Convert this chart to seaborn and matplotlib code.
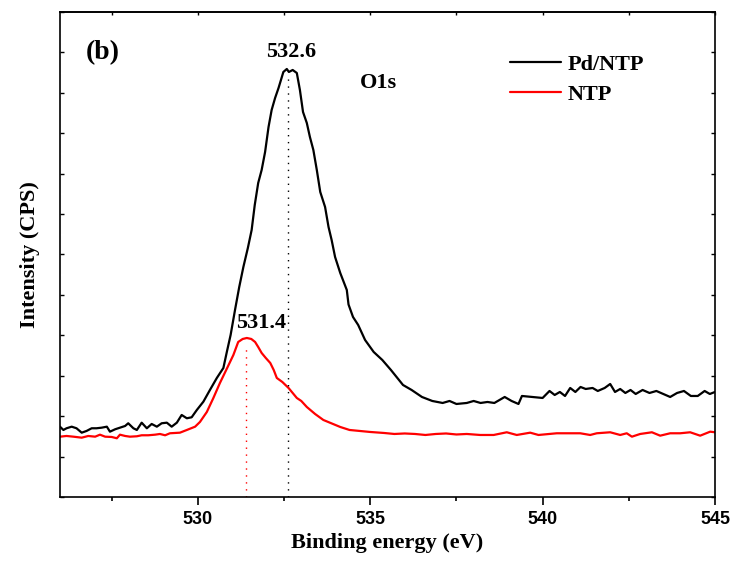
import numpy as np
import pandas as pd
import matplotlib
matplotlib.use('Agg')
import matplotlib.pyplot as plt
import seaborn as sns

# O1s XPS spectra (arbitrary CPS units)
pd_ntp_energy = [526.00, 526.10, 526.19, 526.34, 526.48, 526.63, 526.77, 526.92, 527.06, 527.21,
                 527.36, 527.45, 527.60, 527.74, 527.89, 527.98, 528.13, 528.23, 528.37, 528.52,
                 528.66, 528.81, 528.95, 529.10, 529.24, 529.39, 529.53, 529.68, 529.82, 529.97,
                 530.16, 530.35, 530.55, 530.74, 530.84, 530.95, 531.08, 531.20, 531.32, 531.45,
                 531.56, 531.65, 531.75, 531.85, 531.95, 532.05, 532.14, 532.24, 532.34, 532.48,
                 532.58, 532.64, 532.75, 532.87, 532.96, 533.05, 533.16, 533.25, 533.35, 533.45,
                 533.55, 533.69, 533.79, 533.88, 533.98, 534.13, 534.32, 534.37, 534.50, 534.65,
                 534.85, 535.10, 535.35, 535.60, 535.95, 536.20, 536.50, 536.80, 537.10, 537.30,
                 537.50, 537.80, 538.00, 538.20, 538.40, 538.60, 538.75, 538.90, 539.10, 539.30,
                 539.40, 539.70, 540.00, 540.20, 540.35, 540.50, 540.65, 540.80, 540.95, 541.10,
                 541.25, 541.45, 541.60, 541.80, 541.96, 542.10, 542.25, 542.40, 542.55, 542.70,
                 542.90, 543.10, 543.30, 543.50, 543.70, 543.90, 544.10, 544.30, 544.50, 544.70,
                 544.85, 545.00]
pd_ntp_counts = [2812, 2680, 2748, 2812, 2748, 2572, 2640, 2748, 2748, 2772,
                 2812, 2612, 2708, 2772, 2840, 2948, 2748, 2680, 2972, 2748,
                 2920, 2812, 2948, 2972, 2812, 2972, 3280, 3148, 3188, 3480,
                 3812, 4280, 4760, 5160, 5800, 6480, 7500, 8400, 9200, 9960,
                 10680, 11680, 12560, 13080, 13800, 14800, 15480, 15960, 16360, 17000,
                 17120, 17000, 17080, 16960, 16280, 15400, 14960, 14400, 13880, 13080,
                 12200, 11600, 10800, 10280, 9600, 8960, 8280, 7700, 7200, 6880,
                 6280, 5800, 5480, 5080, 4480, 4280, 4000, 3840, 3760, 3840,
                 3720, 3760, 3840, 3760, 3800, 3760, 3880, 4000, 3840, 3720,
                 4040, 4000, 3960, 4240, 4080, 4200, 4040, 4360, 4200, 4400,
                 4320, 4360, 4240, 4360, 4520, 4200, 4320, 4160, 4280, 4120,
                 4280, 4160, 4240, 4120, 4000, 4160, 4240, 4040, 4040, 4240,
                 4120, 4200]

ntp_energy = [526.00, 526.19, 526.39, 526.63, 526.82, 527.02, 527.16, 527.31, 527.50, 527.65,
              527.74, 527.89, 528.03, 528.23, 528.37, 528.56, 528.76, 528.90, 529.05, 529.19,
              529.48, 529.68, 529.92, 530.06, 530.26, 530.45, 530.64, 530.85, 531.03, 531.17,
              531.30, 531.42, 531.55, 531.66, 531.75, 531.85, 531.97, 532.10, 532.20, 532.29,
              532.45, 532.63, 532.75, 532.87, 533.00, 533.16, 533.40, 533.64, 533.85, 534.13,
              534.40, 534.70, 535.00, 535.40, 535.70, 536.00, 536.30, 536.60, 536.90, 537.20,
              537.50, 537.80, 538.19, 538.58, 538.96, 539.25, 539.64, 539.88, 540.41, 541.09,
              541.38, 541.57, 541.96, 542.25, 542.44, 542.59, 542.83, 543.17, 543.41, 543.70,
              543.99, 544.28, 544.57, 544.86, 545.00]
ntp_counts = [2412, 2440, 2412, 2372, 2440, 2412, 2492, 2412, 2400, 2348,
              2492, 2440, 2412, 2428, 2468, 2468, 2492, 2520, 2468, 2548,
              2572, 2680, 2812, 3000, 3400, 3960, 4560, 5160, 5680, 6200,
              6320, 6360, 6320, 6200, 6000, 5760, 5560, 5360, 5080, 4760,
              4600, 4360, 4160, 3960, 3840, 3600, 3320, 3080, 2960, 2800,
              2680, 2640, 2600, 2560, 2520, 2540, 2520, 2480, 2520, 2540,
              2500, 2520, 2480, 2480, 2588, 2480, 2572, 2480, 2548, 2548,
              2480, 2548, 2588, 2480, 2548, 2412, 2520, 2588, 2452, 2548,
              2548, 2588, 2452, 2612, 2588]

peak_labels = ['532.6', '531.4']
peak_positions = [532.6, 531.4]
peak_heights = [16750, 5900]

x_ticks = [530, 535, 540, 545]

df_pd = pd.DataFrame({'energy': pd_ntp_energy, 'counts': pd_ntp_counts})
df_ntp = pd.DataFrame({'energy': ntp_energy, 'counts': ntp_counts})

sns.set_style('ticks')
plt.rcParams['font.family'] = ['Liberation Serif', 'DejaVu Serif']
for key in ['text.color', 'axes.labelcolor', 'xtick.color', 'ytick.color', 'axes.edgecolor']:
    plt.rcParams[key] = 'black'

fig = plt.figure(figsize=(7.34, 5.65), dpi=100)
ax = fig.add_axes([0.0817, 0.1204, 0.8924, 0.8584])

sns.lineplot(data=df_pd, x='energy', y='counts', color='black', linewidth=1.6,
             label='Pd/NTP', ax=ax)
sns.lineplot(data=df_ntp, x='energy', y='counts', color='red', linewidth=1.6,
             label='NTP', ax=ax)

# dotted guide lines at the peak maxima
ax.plot([peak_positions[0]] * 2, [0, peak_heights[0]], color='black',
        linewidth=1, linestyle=(0, (1, 4)))
ax.plot([peak_positions[1]] * 2, [0, peak_heights[1]], color='red',
        linewidth=1, linestyle=(0, (1, 4)))

ax.text(532.7, 17800, peak_labels[0], ha='center', va='center',
        fontsize=16, fontweight='bold')
ax.text(531.83, 6960, peak_labels[1], ha='center', va='center',
        fontsize=16, fontweight='bold')
ax.text(535.23, 0.854, 'O1s', transform=ax.get_xaxis_transform(),
        ha='center', va='center', fontsize=16, fontweight='bold')
ax.text(0.066, 0.916, '(b)', transform=ax.transAxes, ha='center', va='center',
        fontsize=20, fontweight='bold')

ax.set_xlim(526, 545)
ax.set_ylim(0, 19400)
ax.set_xticks(x_ticks)
ax.set_xticks(np.arange(527.5, 545, 2.5), minor=True)
ax.set_yticks(np.linspace(0, 19400, 13))
ax.set_yticklabels([])

ax.tick_params(axis='x', which='major', direction='out', length=6, width=1.2,
               bottom=True, top=False, pad=4)
ax.tick_params(axis='x', which='minor', direction='out', length=3, width=1.2)
ax.tick_params(axis='y', direction='in', length=3, width=1, left=True, right=True)
for lab in ax.get_xticklabels():
    lab.set_fontfamily(['Liberation Sans', 'DejaVu Sans'])
    lab.set_fontweight('bold')
    lab.set_fontsize(13)

# small inward ticks on the top spine
top = ax.secondary_xaxis('top')
top.set_xticks(x_ticks)
top.set_xticks(np.arange(527.5, 545, 2.5), minor=True)
top.set_xticklabels([])
top.tick_params(which='both', direction='in', length=2, width=1)

for s in ax.spines.values():
    s.set_linewidth(1.2)
    s.set_visible(True)
for s in top.spines.values():
    s.set_linewidth(1.2)

ax.set_xlabel('Binding energy (eV)', fontsize=16, fontweight='bold', labelpad=4)
ax.set_ylabel('Intensity (CPS)', fontsize=16, fontweight='bold', labelpad=11)

leg = ax.legend(loc='upper left', bbox_to_anchor=(510 / 734, 1 - 54 / 565),
                bbox_transform=fig.transFigure, frameon=False, borderpad=0,
                borderaxespad=0, handlelength=2.3, handletextpad=0.3,
                labelspacing=0.45, prop={'size': 16, 'weight': 'bold'})

fig.savefig('out.png', dpi=100)
